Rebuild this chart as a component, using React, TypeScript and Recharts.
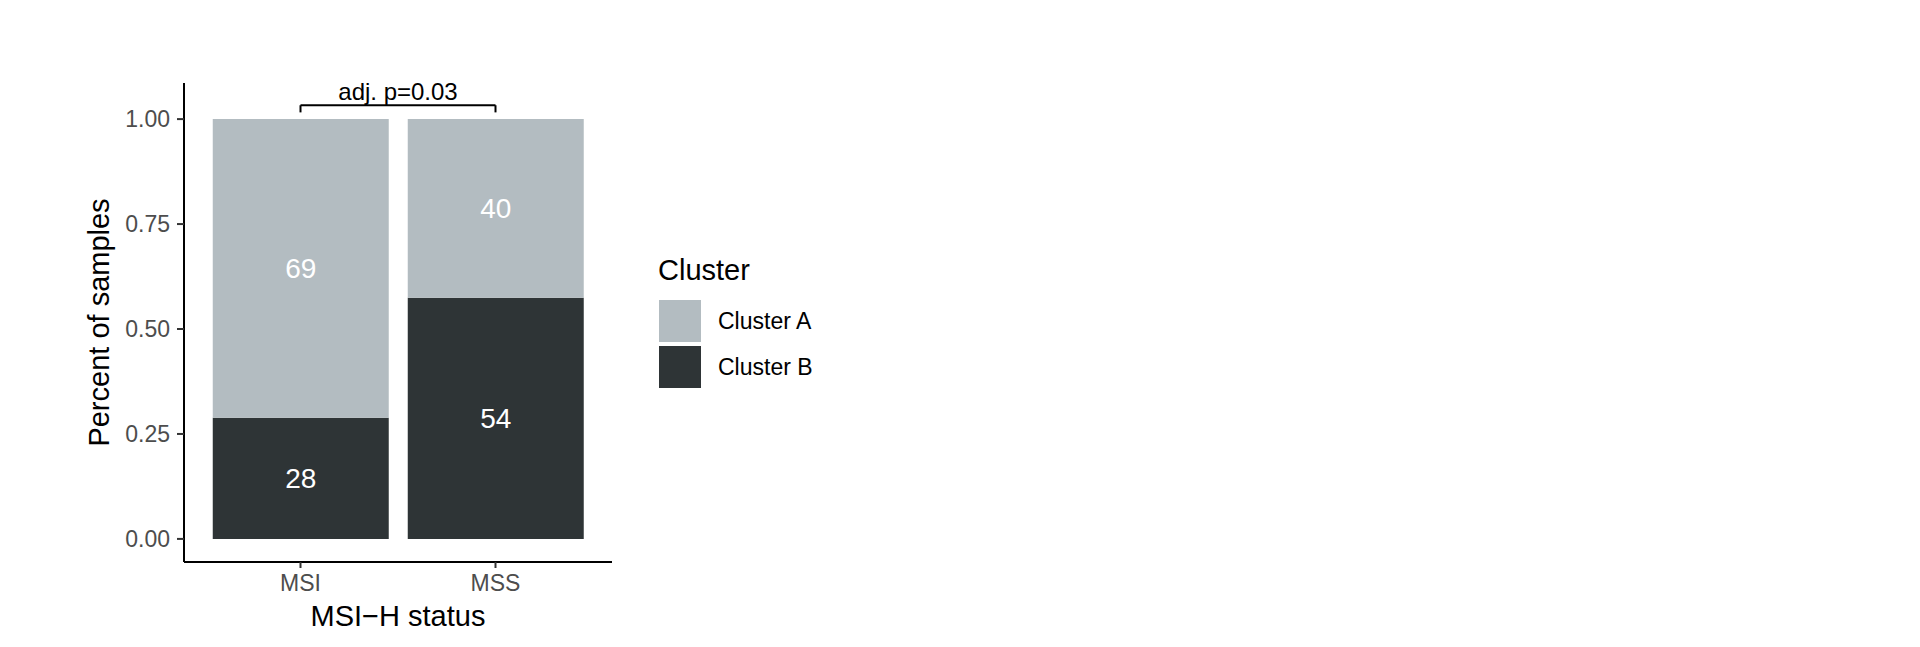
import {
  BarChart,
  Bar,
  XAxis,
  YAxis,
  Legend,
  LabelList,
  ReferenceLine,
} from "recharts";

const categories = ["MSI", "MSS"];
const clusterA = [69, 40];
const clusterB = [28, 54];
const seriesNames = ["Cluster A", "Cluster B"];
const seriesColors = ["#B3BCC1", "#2E3436"];
const yTicks = [0, 0.25, 0.5, 0.75, 1];
const pLabel = "adj. p=0.03";

const FONT = '"Liberation Sans", Arial, Helvetica, sans-serif';
const BRACKET_Y = 1.033;
const BRACKET_END = 1.016;

// stacked shares per category, counts kept for the labels
const data = categories.map((c, i) => {
  const total = clusterA[i] + clusterB[i];
  return {
    status: c,
    a: clusterA[i],
    b: clusterB[i],
    shareA: clusterA[i] / total,
    shareB: clusterB[i] / total,
  };
});

const renderYTitle = (props: any) => {
  const vb = props.viewBox || {};
  const x = vb.x + 5;
  const y = vb.y + vb.height / 2;
  return (
    <text
      x={x}
      y={y}
      transform={`rotate(-90, ${x}, ${y})`}
      textAnchor="middle"
      fontSize={29}
      fontFamily={FONT}
      fill="#000"
    >
      Percent of samples
    </text>
  );
};

const renderLegend = () => (
  <div style={{ fontFamily: FONT, color: "#000" }}>
    <div style={{ fontSize: 29, lineHeight: "34px", marginBottom: 13 }}>
      Cluster
    </div>
    {seriesNames.map((name, i) => (
      <div
        key={name}
        style={{
          display: "flex",
          alignItems: "center",
          height: 42,
          marginBottom: 4,
        }}
      >
        <span
          style={{
            width: 42,
            height: 42,
            marginLeft: 1,
            backgroundColor: seriesColors[i],
            display: "inline-block",
          }}
        />
        <span style={{ marginLeft: 17, fontSize: 23 }}>{name}</span>
      </div>
    ))}
  </div>
);

const App = () => {
  return (
    <div style={{ width: 900, height: 639, fontFamily: FONT }}>
      <BarChart
        width={900}
        height={639}
        data={data}
        barCategoryGap="5%"
        margin={{ top: 75, right: 296, left: 96, bottom: 0 }}
      >
        <XAxis
          dataKey="status"
          height={85}
          padding={{ left: 19, right: 19 }}
          axisLine={{ stroke: "#000", strokeWidth: 2 }}
          tickLine={{ stroke: "#333", strokeWidth: 2 }}
          tickSize={6}
          tickMargin={7}
          tick={{ fill: "#4D4D4D", fontSize: 23, fontFamily: FONT }}
          label={{
            value: "MSI\u2212H status",
            position: "insideBottom",
            offset: 21,
            fill: "#000",
            fontSize: 29,
            fontFamily: FONT,
          }}
        />
        <YAxis
          width={80}
          type="number"
          domain={[-0.055, 1.086]}
          allowDataOverflow
          ticks={yTicks}
          tickFormatter={(v: number) => v.toFixed(2)}
          axisLine={{ stroke: "#000", strokeWidth: 2 }}
          tickLine={{ stroke: "#333", strokeWidth: 2 }}
          tickSize={7}
          tickMargin={7}
          tick={{ fill: "#4D4D4D", fontSize: 23, fontFamily: FONT }}
          label={{ content: renderYTitle }}
        />
        <Bar
          dataKey="shareB"
          name={seriesNames[1]}
          stackId="s"
          fill={seriesColors[1]}
          isAnimationActive={false}
        >
          <LabelList
            dataKey="b"
            position="center"
            fill="#fff"
            fontSize={28}
            fontFamily={FONT}
          />
        </Bar>
        <Bar
          dataKey="shareA"
          name={seriesNames[0]}
          stackId="s"
          fill={seriesColors[0]}
          isAnimationActive={false}
        >
          <LabelList
            dataKey="a"
            position="center"
            fill="#fff"
            fontSize={28}
            fontFamily={FONT}
          />
        </Bar>
        <ReferenceLine
          segment={[
            { x: categories[0], y: BRACKET_Y },
            { x: categories[1], y: BRACKET_Y },
          ]}
          stroke="#000"
          strokeWidth={2}
          ifOverflow="visible"
          label={{
            value: pLabel,
            position: "top",
            fill: "#000",
            fontSize: 24,
            fontFamily: FONT,
          }}
        />
        <ReferenceLine
          segment={[
            { x: categories[0], y: BRACKET_Y },
            { x: categories[0], y: BRACKET_END },
          ]}
          stroke="#000"
          strokeWidth={2}
          ifOverflow="visible"
        />
        <ReferenceLine
          segment={[
            { x: categories[1], y: BRACKET_Y },
            { x: categories[1], y: BRACKET_END },
          ]}
          stroke="#000"
          strokeWidth={2}
          ifOverflow="visible"
        />
        <Legend
          layout="horizontal"
          verticalAlign="middle"
          align="center"
          content={renderLegend}
          wrapperStyle={{ position: "absolute", left: 650, top: 245, width: "auto" }}
        />
      </BarChart>
    </div>
  );
};

export default App;
